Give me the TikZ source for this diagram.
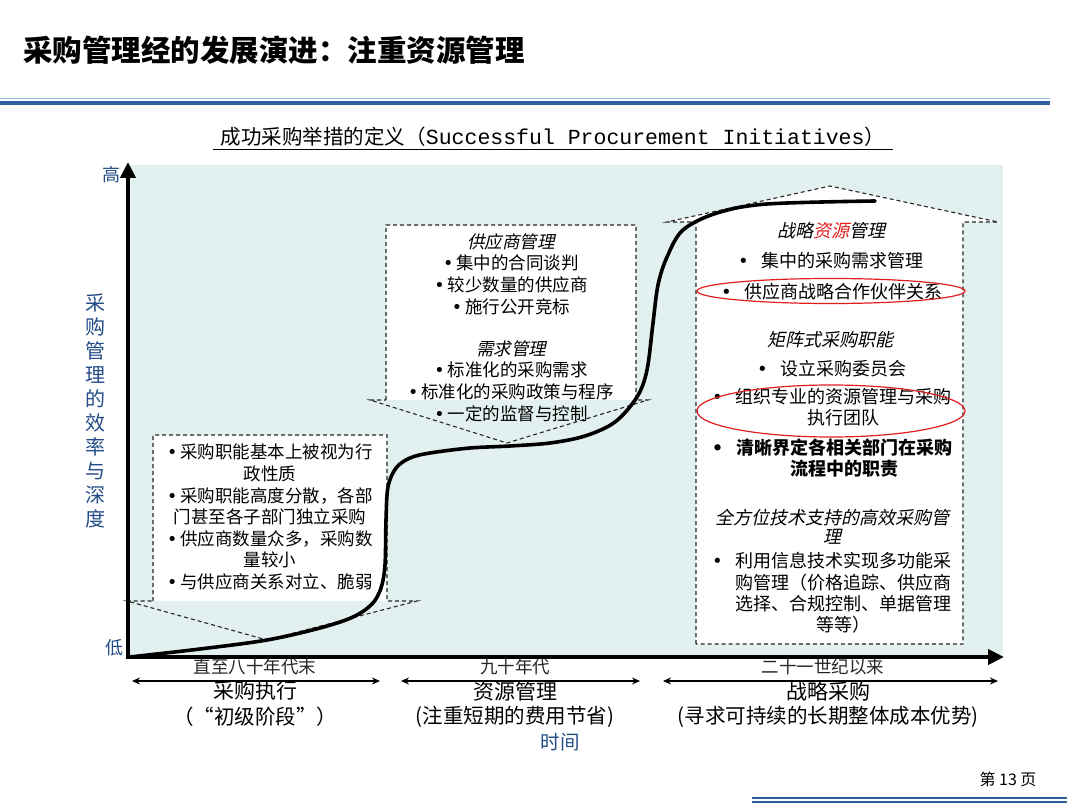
\documentclass[tikz,border=0pt]{standalone}
\usepackage{fontspec}
\setmainfont{Noto Sans CJK SC}
\newfontfamily\itfont[FakeSlant=0.22]{Noto Sans CJK SC}
\newfontfamily\monofont{Liberation Mono}
\newfontfamily\bulfont{DejaVu Sans}
\newcommand\bul{{\bulfont •}}
\usetikzlibrary{arrows.meta}
\definecolor{bgcyan}{RGB}{227,240,240}
\definecolor{axblue}{RGB}{35,75,135}
\definecolor{hdark}{RGB}{45,95,155}
\definecolor{hlight}{RGB}{140,185,230}
\definecolor{redc}{RGB}{225,30,30}
\begin{document}
\begin{tikzpicture}[x=1pt,y=-1pt,
  dbox/.style={draw=black!85, dash pattern=on 4pt off 3pt, line width=1.1pt},
  axisline/.style={line width=4pt, line join=miter},
  darr/.style={line width=1.6pt, {Stealth[length=8pt,width=7pt]}-{Stealth[length=8pt,width=7pt]}},
  boxtxt/.style={font=\fontsize{17.5}{21.6}\selectfont, align=center, inner sep=0pt},
  rtxt/.style={font=\fontsize{18}{19.6}\selectfont, inner sep=0pt},
  rhead/.style={font=\itfont\fontsize{18}{19.2}\selectfont, align=center, inner sep=0pt},
  period/.style={font=\fontsize{17.5}{18}\selectfont, text=black!85, inner sep=0pt},
  stage/.style={font=\fontsize{21}{22}\selectfont, inner sep=0pt},
  stagesub/.style={font=\fontsize{20.5}{22}\selectfont, inner sep=0pt},
  bluetxt/.style={text=axblue, inner sep=0pt},
  ring/.style={draw=redc, line width=1.2pt}
]
\useasboundingbox (0,0) rectangle (1080,810);

% header
\node[anchor=west, inner sep=0pt, font=\fontsize{29.5}{30}\selectfont\bfseries] (title) at (23,50) {采购管理经的发展演进：注重资源管理};
\draw[hlight, line width=1.2pt] (0,98.5) -- (1050,98.5);
\draw[hdark, line width=4.5pt] (0,103) -- (1050,103);

% chart title
\node[inner sep=0pt] (ctitle) at (553,137) {\fontsize{20.5}{22}\selectfont 成功采购举措的定义（{\monofont\fontsize{21.5}{22}\selectfont Successful Procurement Initiatives}）};
\coordinate (ulA) at (213,149);
\coordinate (ulB) at (893,149);
\draw[line width=0.9pt] (ulA) -- (ulB);

% background
\fill[bgcyan] (130,165) rectangle (1003,657);

% left down-arrow box
\fill[white] (153,435) rectangle (387,601);
\draw[dbox] (153,601) -- (153,435) -- (387,435) -- (387,601) -- (417,601) -- (267,640) -- (127,601) -- cycle;

% middle down-arrow box
\fill[white] (386,225) rectangle (636,400);
\draw[dbox] (386,400) -- (386,225) -- (636,225) -- (636,400) -- (648,400) -- (507,443) -- (370,400) -- cycle;

% right up-arrow box
\fill[white] (696,644) -- (696,222) -- (667,222) -- (830,186) -- (998,222) -- (963,222) -- (963,644) -- cycle;
\draw[dbox] (696,644) -- (696,222) -- (667,222) -- (830,186) -- (998,222) -- (963,222) -- (963,644) -- cycle;

% curve
\draw[line width=3.6pt, line cap=round, line join=round] plot[smooth, tension=0.55] coordinates {
 (130,657) (200,649) (267,640) (320,628) (353,617) (372,604) (381,588) (385,565) (386,520) (388,487) (396,468) (410,458) (430,453) (470,448) (510,446) (550,443) (585,436) (615,422) (637,397) (647,370) (653,323) (658,285) (667,257) (683,230) (717,213) (767,204) (875,201)};

% axes
\coordinate (O) at (128,657);
\coordinate (ytop) at (128,162);
\coordinate (xend) at (1004,657);
\draw[axisline, {Triangle[width=15pt,length=16pt]}-{Triangle[width=15pt,length=16pt]}] (ytop) -- (O) -- (xend);

\node[bluetxt, font=\fontsize{18}{18}\selectfont] (high) at (111,175) {高};
\node[bluetxt, font=\fontsize{18}{18}\selectfont] (low) at (114,648) {低};
\node[bluetxt, font=\fontsize{20}{24.1}\selectfont, align=center] (ylab) at (95,411) {采\\购\\管\\理\\的\\效\\率\\与\\深\\度};

% left box text
\node[boxtxt] (ltxt) at (270,517) {\bul\,采购职能基本上被视为行\\政性质\\\bul\,采购职能高度分散，各部\\门甚至各子部门独立采购\\\bul\,供应商数量众多，采购数\\量较小\\\bul\,与供应商关系对立、脆弱};

% middle box text
\node[boxtxt] (mtxt1) at (511,274) {{\itfont 供应商管理}\\\bul\,集中的合同谈判\\\bul\,较少数量的供应商\\\bul\,施行公开竞标};
\node[boxtxt] (mtxt2) at (511,381) {{\itfont 需求管理}\\\bul\,标准化的采购需求\\\bul\,标准化的采购政策与程序\\\bul\,一定的监督与控制};

% right box text
\node[rhead] (rh1) at (831,231) {战略{\color{redc}资源}管理};
\node[rtxt] (rb1) at (831,261) {\bul\hspace{13pt}集中的采购需求管理};
\node[rtxt] (rb2) at (832,292) {\bul\hspace{13pt}供应商战略合作伙伴关系};
\draw[ring] (831,291) ellipse [x radius=134pt, y radius=12.5pt];
\node[rhead] (rh2) at (830,340) {矩阵式采购职能};
\node[rtxt] (rb3) at (832,369) {\bul\hspace{13pt}设立采购委员会};
\node[rtxt] (rb4) at (832,409) {\begin{tabular}{@{}l@{\hspace{13pt}}c@{}}\bul&组织专业的资源管理与采购\\&执行团队\end{tabular}};
\draw[ring] (831,411) ellipse [x radius=134pt, y radius=26pt];
\node[rtxt, font=\fontsize{18}{19.6}\selectfont\bfseries] (rb5) at (832,460) {\begin{tabular}{@{}l@{\hspace{13pt}}c@{}}\bul&清晰界定各相关部门在采购\\&流程中的职责\end{tabular}};
\node[rhead] (rh3) at (832,527) {全方位技术支持的高效采购管\\理};
\node[rtxt] (rb6) at (832,595) {\begin{tabular}{@{}l@{\hspace{13pt}}c@{}}\bul&利用信息技术实现多功能采\\&购管理（价格追踪、供应商\\&选择、合规控制、单据管理\\&等等）\end{tabular}};

% time axis labels
\node[period] (p1) at (255,667) {直至八十年代末};
\node[period] (p2) at (515,667) {九十年代};
\node[period] (p3) at (823,667) {二十一世纪以来};

\coordinate (a1l) at (132,681); \coordinate (a1r) at (380,681);
\coordinate (a2l) at (401,681); \coordinate (a2r) at (640,681);
\coordinate (a3l) at (663,681); \coordinate (a3r) at (998,681);
\draw[darr] (a1l) -- (a1r);
\draw[darr] (a2l) -- (a2r);
\draw[darr] (a3l) -- (a3r);

\node[stage] (s1) at (255,691) {采购执行};
\node[stage] (s2) at (515,691) {资源管理};
\node[stage] (s3) at (828,691) {战略采购};
\node[stagesub] (t1) at (255,717) {（“初级阶段”）};
\node[stagesub] (t2) at (515,717) {(注重短期的费用节省)};
\node[stagesub] (t3) at (828,717) {(寻求可持续的长期整体成本优势)};
\node[bluetxt, font=\fontsize{19.5}{20}\selectfont] (time) at (560,742) {时间};

% footer
\node[inner sep=0pt, font=\fontsize{16}{17}\selectfont] (page) at (1008,779) {第 13 页};
\draw[hdark, line width=1.6pt] (752,797.7) -- (1067,797.7);
\draw[hdark, line width=1.6pt] (752,802) -- (1067,802);
\end{tikzpicture}
\end{document}
